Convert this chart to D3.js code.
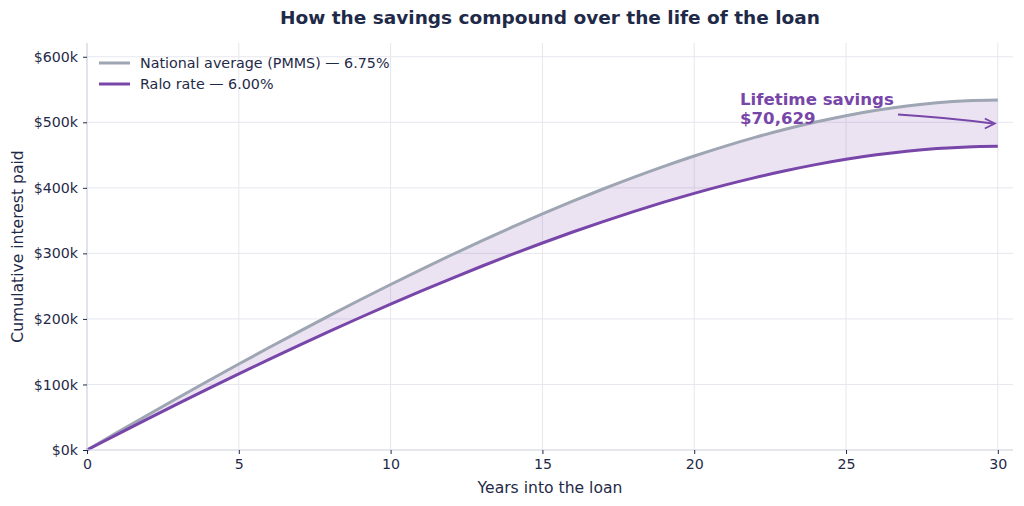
<!DOCTYPE html>
<html>
<head>
<meta charset="utf-8">
<script src="https://cdn.jsdelivr.net/npm/d3@7"></script>
<style>
  html, body { margin: 0; padding: 0; background: #ffffff; }
  svg { display: block; font-family: "DejaVu Sans", sans-serif; }
</style>
</head>
<body>
<svg id="chart" width="1024" height="506"></svg>
<script>
// Data: cumulative interest paid at end of each year (USD)
const years = [0,1,2,3,4,5,6,7,8,9,10,11,12,13,14,15,16,17,18,19,20,21,22,23,24,25,26,27,28,29,30];
const nationalInterest = [0,26869,53442,79697,105613,131165,156329,181078,205382,229210,252530,275306,297500,319072,339978,360171,379604,398221,415967,432781,448598,463349,476959,489349,500434,510123,518318,524917,529808,532872,533981];
const raloInterest = [0,23866,47430,70671,93572,116109,138262,160006,181316,202166,222527,242368,261658,280363,298447,315871,332594,348575,363765,378118,391581,404099,415615,426066,435386,443506,450352,455846,459903,462435,463353];
const seriesNames = ["National average (PMMS) — 6.75%", "Ralo rate — 6.00%"];
const xTicks = [0,5,10,15,20,25,30];
const yTicks = [0,100000,200000,300000,400000,500000,600000];
const titleText = "How the savings compound over the life of the loan";
const xLabel = "Years into the loan";
const yLabel = "Cumulative interest paid";
const annotationLines = ["Lifetime savings", "$70,629"];

const svg = d3.select("#chart");
const margin = {left: 87, right: 11, top: 43, bottom: 56};
const W = 1024, H = 506;
const x = d3.scaleLinear().domain([0, 30.5]).range([margin.left, W - margin.right]);
const y = d3.scaleLinear().domain([0, 621000]).range([H - margin.bottom, margin.top]);

const navy = "#1f2a48";
const gray = "#9ea5b3";
const purple = "#7846a9";

// grid
const g = svg.append("g");
g.selectAll(".gx").data(xTicks).join("line")
  .attr("x1", d => x(d)).attr("x2", d => x(d))
  .attr("y1", y.range()[0]).attr("y2", y.range()[1])
  .attr("stroke", "#e6e7ee").attr("stroke-width", 1);
g.selectAll(".gy").data(yTicks).join("line")
  .attr("x1", x.range()[0]).attr("x2", x.range()[1])
  .attr("y1", d => y(d)).attr("y2", d => y(d))
  .attr("stroke", "#e6e7ee").attr("stroke-width", 1);

// area between
const pts = years.map((yr, i) => ({yr, a: nationalInterest[i], b: raloInterest[i]}));
const curve = d3.curveCatmullRom;
svg.append("path").datum(pts)
  .attr("d", d3.area().curve(curve).x(d => x(d.yr)).y0(d => y(d.b)).y1(d => y(d.a)))
  .attr("fill", purple).attr("fill-opacity", 0.15);

// lines
const line = acc => d3.line().curve(curve).x(d => x(d.yr)).y(d => y(acc(d)));
svg.append("path").datum(pts).attr("d", line(d => d.a))
  .attr("fill", "none").attr("stroke", gray).attr("stroke-width", 3).attr("stroke-linecap", "butt");
svg.append("path").datum(pts).attr("d", line(d => d.b))
  .attr("fill", "none").attr("stroke", purple).attr("stroke-width", 3).attr("stroke-linecap", "butt");

// axes
const xAxis = d3.axisBottom(x).tickValues(xTicks).tickSize(4).tickPadding(5).tickFormat(d3.format("d"));
const yAxis = d3.axisLeft(y).tickValues(yTicks).tickSize(4).tickPadding(5).tickFormat(d => "$" + (d / 1000) + "k");
const xa = svg.append("g").attr("transform", `translate(0,${y(0)})`).call(xAxis);
const ya = svg.append("g").attr("transform", `translate(${x(0)},0)`).call(yAxis);
[xa, ya].forEach(a => {
  a.select(".domain").attr("stroke", "#d8dbe3").attr("stroke-width", 1.2);
  a.selectAll(".tick line").attr("stroke", navy).attr("stroke-width", 1);
  a.selectAll(".tick text").attr("fill", navy).attr("font-size", 14.2).attr("font-family", "DejaVu Sans");
});
xa.select(".domain").attr("d", `M${x.range()[0]},0H${x.range()[1]}`);
ya.select(".domain").attr("d", `M0,${y.range()[0]}V${y.range()[1]}`);

// labels
svg.append("text").attr("x", (x.range()[0] + x.range()[1]) / 2).attr("y", 493)
  .attr("text-anchor", "middle").attr("fill", navy).attr("font-size", 15.6).text(xLabel);
svg.append("text").attr("transform", `translate(23,${(y.range()[0] + y.range()[1]) / 2}) rotate(-90)`)
  .attr("text-anchor", "middle").attr("fill", navy).attr("font-size", 15.6).text(yLabel);
svg.append("text").attr("x", 550).attr("y", 24)
  .attr("text-anchor", "middle").attr("fill", navy).attr("font-size", 18.5).attr("font-weight", "bold").text(titleText);

// legend
const legColors = [gray, purple];
const leg = svg.append("g");
seriesNames.forEach((n, i) => {
  const ly = 63 + i * 21;
  leg.append("line").attr("x1", 99).attr("x2", 130).attr("y1", ly).attr("y2", ly)
    .attr("stroke", legColors[i]).attr("stroke-width", 3);
  leg.append("text").attr("x", 140).attr("y", ly + 5).attr("fill", navy).attr("font-size", 14.3).text(n);
});

// annotation
const ann = svg.append("text").attr("fill", purple).attr("font-size", 16.6).attr("font-weight", "bold");
annotationLines.forEach((t, i) => {
  ann.append("tspan").attr("x", 740).attr("y", 105 + i * 18.5).text(t);
});
const ax0 = 898, ay0 = 114.5, ax1 = x(29.9), ay1 = 123.5;
svg.append("path")
  .attr("d", `M${ax0},${ay0} Q${(ax0 + ax1) / 2},${(ay0 + ay1) / 2 - 1.5} ${ax1 - 2},${ay1}`)
  .attr("fill", "none").attr("stroke", purple).attr("stroke-width", 1.8);
svg.append("path")
  .attr("d", `M${ax1 - 10},${ay1 - 5} L${ax1},${ay1} L${ax1 - 10},${ay1 + 5}`)
  .attr("fill", "none").attr("stroke", purple).attr("stroke-width", 1.8).attr("stroke-linejoin", "miter");
</script>
</body>
</html>
